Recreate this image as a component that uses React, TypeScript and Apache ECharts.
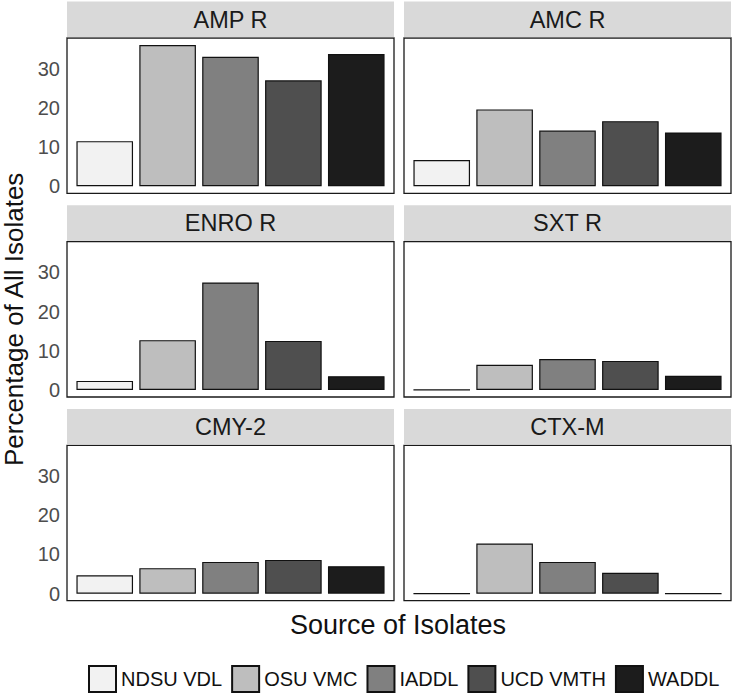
import React, { useEffect, useRef } from "react";
import * as echarts from "echarts";

const sources = ["NDSU VDL", "OSU VMC", "IADDL", "UCD VMTH", "WADDL"];
const sourceColors = ["#f2f2f2", "#bebebe", "#808080", "#4f4f4f", "#1c1c1c"];
const panelTitles = ["AMP R", "AMC R", "ENRO R", "SXT R", "CMY-2", "CTX-M"];

const ampR = [11.5, 36.0, 33.0, 27.0, 33.7];
const amcR = [6.7, 19.6, 14.2, 16.6, 13.7];
const enroR = [2.3, 12.7, 27.4, 12.5, 3.5];
const sxtR = [0, 6.4, 7.9, 7.4, 3.6];
const cmy2 = [4.7, 6.5, 8.1, 8.6, 7.0];
const ctxM = [0, 12.8, 8.1, 5.3, 0];
const panelValues = [ampR, amcR, enroR, sxtR, cmy2, ctxM];

const yTicks = [0, 10, 20, 30];

const FONT = "'Liberation Sans', Arial, Helvetica, sans-serif";

export default function App() {
  const ref = useRef<HTMLDivElement>(null);

  useEffect(() => {
    if (!ref.current) return;
    const chart = echarts.init(ref.current, undefined, { renderer: "svg" });

    const colLeft = [67, 404];
    const panelW = 327;
    const stripH = 36.5;
    const panelH = 155.3;
    const rowPitch = 203.7;
    const stripTop0 = 1.5;
    const xMin = 0.4;
    const xMax = 5.6;
    const barW = (0.9 * panelW) / (xMax - xMin);

    const grids: any[] = [];
    const xAxes: any[] = [];
    const yAxes: any[] = [];
    const series: any[] = [];
    const graphics: any[] = [];

    panelTitles.forEach((title, idx) => {
      const r = Math.floor(idx / 2);
      const c = idx % 2;
      const stripTop = stripTop0 + r * rowPitch;
      const panelTop = stripTop + stripH;
      const left = colLeft[c];

      grids.push({
        left,
        top: panelTop,
        width: panelW,
        height: panelH,
        show: true,
        borderColor: "#1a1a1a",
        borderWidth: 1.3,
        backgroundColor: "#ffffff",
        containLabel: false,
        outerBoundsMode: "none",
      });
      xAxes.push({
        type: "value",
        gridIndex: idx,
        min: xMin,
        max: xMax,
        show: false,
      });
      const yAxis: any = {
        type: "value",
        gridIndex: idx,
        min: -1.8,
        max: 37.8,
        axisLine: { show: false },
        axisTick: { show: false },
        splitLine: { show: false },
        axisLabel: {
          show: c === 0,
          customValues: yTicks,
          color: "#4d4d4d",
          fontSize: 20,
          fontFamily: FONT,
          margin: 7,
        },
      };
      if (idx === 2) {
        yAxis.name = "Percentage of All Isolates";
        yAxis.nameLocation = "middle";
        yAxis.nameRotate = 90;
        yAxis.nameGap = 43;
        yAxis.nameTextStyle = {
          color: "#111111",
          fontSize: 26,
          lineHeight: 20,
          fontFamily: FONT,
        };
      }
      yAxes.push(yAxis);
      series.push({
        type: "bar",
        xAxisIndex: idx,
        yAxisIndex: idx,
        barWidth: barW,
        data: panelValues[idx].map((v, i) => ({
          value: [i + 1, v],
          itemStyle: {
            color: sourceColors[i],
            borderColor: "#111111",
            borderWidth: 1.2,
          },
        })),
      });
      graphics.push({
        type: "rect",
        shape: { x: left, y: stripTop, width: panelW, height: stripH - 0.8 },
        style: { fill: "#d9d9d9" },
        silent: true,
      });
      graphics.push({
        type: "text",
        x: left + panelW / 2,
        y: stripTop + stripH / 2,
        style: {
          text: title,
          fill: "#1a1a1a",
          fontSize: 23.5,
          fontFamily: FONT,
          textAlign: "center",
          textVerticalAlign: "middle",
        },
        silent: true,
      });
    });

    // hidden grid for legend-only series
    const hid = panelTitles.length;
    grids.push({ left: 0, top: 0, width: 1, height: 1, show: false });
    xAxes.push({ type: "category", gridIndex: hid, show: false, data: [] });
    yAxes.push({ type: "value", gridIndex: hid, show: false });
    sources.forEach((name, i) => {
      series.push({
        type: "bar",
        name,
        xAxisIndex: hid,
        yAxisIndex: hid,
        data: [],
        itemStyle: {
          color: sourceColors[i],
          borderColor: "#111111",
          borderWidth: 1.2,
        },
      });
    });

    graphics.push({
      type: "text",
      x: 398,
      y: 625,
      style: {
        text: "Source of Isolates",
        fill: "#111111",
        fontSize: 27,
        fontFamily: FONT,
        textAlign: "center",
        textVerticalAlign: "middle",
      },
      silent: true,
    });

    chart.setOption({
      animation: false,
      backgroundColor: "#ffffff",
      grid: grids,
      xAxis: xAxes,
      yAxis: yAxes,
      series,
      graphic: graphics,
      legend: {
        left: 88,
        top: 665,
        padding: 0,
        icon: "rect",
        itemWidth: 27,
        itemHeight: 26,
        itemGap: 9,
        selectedMode: false,
        textStyle: { fontSize: 20, color: "#111111", fontFamily: FONT },
        data: sources,
      },
    });

    return () => chart.dispose();
  }, []);

  return (
    <div
      ref={ref}
      style={{ position: "fixed", left: 0, top: 0, width: 733, height: 697 }}
    />
  );
}
